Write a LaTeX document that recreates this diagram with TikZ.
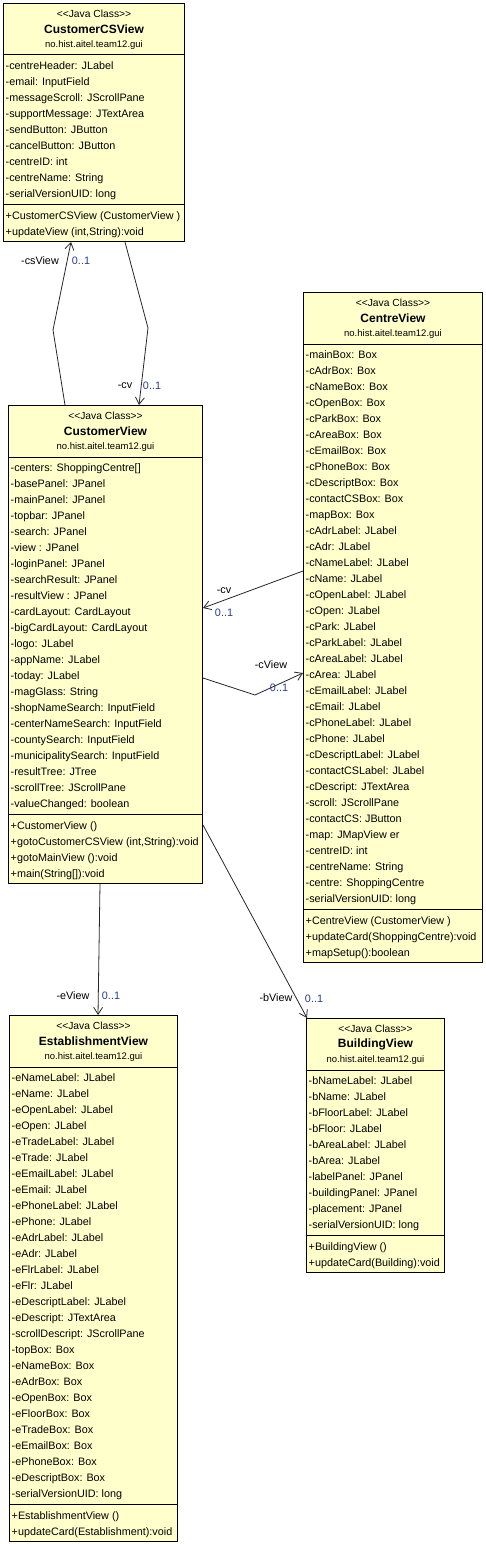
\documentclass[tikz,border=0pt]{standalone}
\usepackage{fontspec}
\setmainfont{Liberation Sans}
\usepackage{xcolor}
\usepackage{tikz}
\usetikzlibrary{arrows.meta}

\definecolor{classfill}{RGB}{255,255,204}
\definecolor{multblue}{RGB}{40,60,140}

% one UML class box: #1 name, #2 left, #3 top, #4 width, #5 title, #6 fields, #7 methods
\newcommand{\umlclass}[7]{%
  \foreach \txt [count=\i] in {#6} {\xdef\nfields{\i}}
  \foreach \txt [count=\i] in {#7} {\xdef\nmethods{\i}}
  \pgfmathsetmacro\sepy{#3+57+16*\nfields}
  \pgfmathsetmacro\boty{\sepy+5+16*\nmethods}
  \node[class_box, minimum width=#4, minimum height=\boty-#3] (#1) at (#2,#3) {};
  \node[stereo_text] (#1-st) at ([yshift=-11]#1.north) {<\kern0pt<Java Class>\kern0pt>};
  \node[title_text] (#1-ti) at ([yshift=-26.5]#1.north) {#5};
  \node[pkg_text] (#1-pk) at ([yshift=-42]#1.north) {no.hist.aitel.team12.gui};
  \draw[sep_line] ([yshift=-52]#1.north west) -- ([yshift=-52]#1.north east);
  \foreach \txt [count=\i] in {#6}
    \node[member_text] (#1-f\i) at (#2+2.5, #3+50.5+16*\i) {\txt};
  \draw[sep_line] (#1.west |- 0,\sepy) -- (#1.east |- 0,\sepy);
  \foreach \txt [count=\i] in {#7}
    \node[member_text] (#1-m\i) at (#2+2.5, \sepy-1+16*\i) {\txt};
}

\begin{document}
\begin{tikzpicture}[
    x=1pt, y=-1pt,
    class_box/.style={
        draw=black,
        fill=classfill,
        line width=1pt,
        anchor=north west,
        inner sep=0pt
    },
    sep_line/.style={draw=black, line width=1pt},
    member_text/.style={anchor=base west, inner sep=0pt, font=\fontsize{10.8}{13}\selectfont},
    stereo_text/.style={inner sep=0pt, font=\fontsize{10.3}{12}\selectfont},
    pkg_text/.style={inner sep=0pt, font=\fontsize{9.5}{11}\selectfont},
    title_text/.style={inner sep=0pt, font=\fontsize{12}{14}\selectfont\bfseries},
    role_label/.style={inner sep=0pt, font=\fontsize{10.8}{13}\selectfont},
    mult_label/.style={role_label, text=multblue},
    assoc_edge/.style={
        draw=black!85,
        line width=0.8pt,
        -{Straight Barb[length=7pt,width=9pt]}
    }
]
\useasboundingbox (0,0) rectangle (486,1544);

% --- Classes ---
\umlclass{csv}{3}{3}{181}{CustomerCSView}{
  -centreHeader: JLabel, -email: InputField, -messageScroll: JScrollPane,
  -supportMessage: JTextArea, -sendButton: JButton, -cancelButton: JButton,
  -centreID: int, -centreName: String, -serialVersionUID: long}{
  +CustomerCSView (CustomerView ), {+updateView (int,String):void}}

\umlclass{cv}{8}{405}{194}{CustomerView}{
  -centers: ShoppingCentre[], -basePanel: JPanel, -mainPanel: JPanel,
  -topbar: JPanel, -search: JPanel, -view : JPanel, -loginPanel: JPanel,
  -searchResult: JPanel, -resultView : JPanel, -cardLayout: CardLayout,
  -bigCardLayout: CardLayout, -logo: JLabel, -appName: JLabel, -today: JLabel,
  -magGlass: String, -shopNameSearch: InputField, -centerNameSearch: InputField,
  -countySearch: InputField, -municipalitySearch: InputField, -resultTree: JTree,
  -scrollTree: JScrollPane, -valueChanged: boolean}{
  +CustomerView (), {+gotoCustomerCSView (int,String):void},
  +gotoMainView ():void, +main(String[]):void}

\umlclass{cen}{303}{292}{179}{CentreView}{
  -mainBox: Box, -cAdrBox: Box, -cNameBox: Box, -cOpenBox: Box, -cParkBox: Box,
  -cAreaBox: Box, -cEmailBox: Box, -cPhoneBox: Box, -cDescriptBox: Box,
  -contactCSBox: Box, -mapBox: Box, -cAdrLabel: JLabel, -cAdr: JLabel,
  -cNameLabel: JLabel, -cName: JLabel, -cOpenLabel: JLabel, -cOpen: JLabel,
  -cPark: JLabel, -cParkLabel: JLabel, -cAreaLabel: JLabel, -cArea: JLabel,
  -cEmailLabel: JLabel, -cEmail: JLabel, -cPhoneLabel: JLabel, -cPhone: JLabel,
  -cDescriptLabel: JLabel, -contactCSLabel: JLabel, -cDescript: JTextArea,
  -scroll: JScrollPane, -contactCS: JButton, -map: JMapView er, -centreID: int,
  -centreName: String, -centre: ShoppingCentre, -serialVersionUID: long}{
  +CentreView (CustomerView ), +updateCard(ShoppingCentre):void,
  +mapSetup():boolean}

\umlclass{est}{9}{1015}{168}{EstablishmentView}{
  -eNameLabel: JLabel, -eName: JLabel, -eOpenLabel: JLabel, -eOpen: JLabel,
  -eTradeLabel: JLabel, -eTrade: JLabel, -eEmailLabel: JLabel, -eEmail: JLabel,
  -ePhoneLabel: JLabel, -ePhone: JLabel, -eAdrLabel: JLabel, -eAdr: JLabel,
  -eFlrLabel: JLabel, -eFlr: JLabel, -eDescriptLabel: JLabel,
  -eDescript: JTextArea, -scrollDescript: JScrollPane, -topBox: Box,
  -eNameBox: Box, -eAdrBox: Box, -eOpenBox: Box, -eFloorBox: Box,
  -eTradeBox: Box, -eEmailBox: Box, -ePhoneBox: Box, -eDescriptBox: Box,
  -serialVersionUID: long}{
  +EstablishmentView (), +updateCard(Establishment):void}

\umlclass{bld}{306}{1018}{138}{BuildingView}{
  -bNameLabel: JLabel, -bName: JLabel, -bFloorLabel: JLabel, -bFloor: JLabel,
  -bAreaLabel: JLabel, -bArea: JLabel, -labelPanel: JPanel,
  -buildingPanel: JPanel, -placement: JPanel, -serialVersionUID: long}{
  +BuildingView (), +updateCard(Building):void}

% --- Associations ---
\draw[assoc_edge] ([xshift=57]cv.north west) -- (53,330) -- ([xshift=68]csv.south west);
\draw[assoc_edge] ([xshift=122]csv.south west) -- (148,328) -- ([xshift=131]cv.north west);
\draw[assoc_edge] ([yshift=-279]cen.north west) -- ([yshift=-203]cv.north east);
\draw[assoc_edge] ([yshift=-273]cv.north east) -- (255,695) -- ([yshift=-381]cen.north west);
\draw[assoc_edge] ([xshift=92]cv.south west) -- ([xshift=89]est.north west);
\draw[assoc_edge] ([yshift=59]cv.south east) -- ([xshift=1]bld.north west);

% role names and multiplicities
\node[role_label] (l-csview) at (40,261) {-csView};
\node[mult_label] (m-csview) at (81,261) {0..1};
\node[role_label] (l-cv-top) at (125,386) {-cv};
\node[mult_label] (m-cv-top) at (152,386) {0..1};
\node[role_label] (l-cv-cen) at (224,591) {-cv};
\node[mult_label] (m-cv-cen) at (224,613) {0..1};
\node[role_label] (l-cview) at (271,665) {-cView};
\node[mult_label] (m-cview) at (279,688) {0..1};
\node[role_label] (l-eview) at (73,996) {-eView};
\node[mult_label] (m-eview) at (111,996) {0..1};
\node[role_label] (l-bview) at (276,998) {-bView};
\node[mult_label] (m-bview) at (314,999) {0..1};

\end{tikzpicture}
\end{document}
